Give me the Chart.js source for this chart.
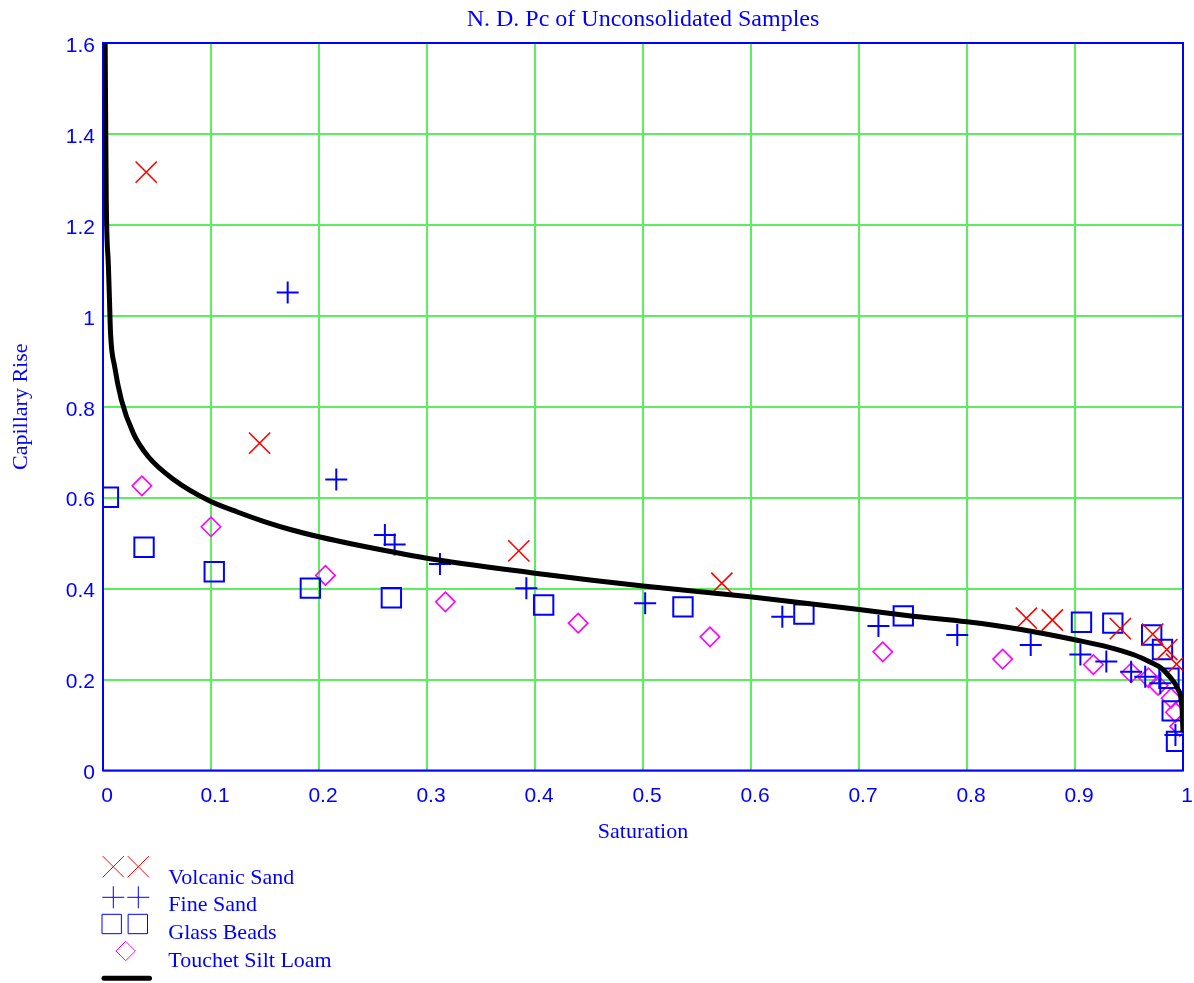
<!DOCTYPE html>
<html>
<head>
<meta charset="utf-8">
<script src="https://cdn.jsdelivr.net/npm/chart.js@4.4.1/dist/chart.umd.min.js"></script>
<style>
  html, body { margin: 0; padding: 0; background: #ffffff; }
  #wrap { width: 1194px; height: 983px; position: relative; }
</style>
</head>
<body>
<div id="wrap"><canvas id="c" width="1194" height="983"></canvas></div>
<script>
// ---- data ----
const titleText = "N. D. Pc of Unconsolidated Samples";
const xTitle = "Saturation";
const yTitle = "Capillary Rise";
const seriesNames = ["Volcanic Sand", "Fine Sand", "Glass Beads", "Touchet Silt Loam"];

const volcanicX = [0.040, 0.145, 0.385, 0.573, 0.855, 0.879, 0.942, 0.972, 0.985, 0.994];
const volcanicY = [1.316, 0.720, 0.483, 0.412, 0.335, 0.331, 0.312, 0.300, 0.266, 0.234];

const fineX = [0.171, 0.216, 0.261, 0.270, 0.312, 0.392, 0.502, 0.629, 0.718, 0.791, 0.859, 0.905, 0.929, 0.952, 0.965, 0.979, 0.993];
const fineY = [1.051, 0.640, 0.518, 0.497, 0.454, 0.401, 0.368, 0.338, 0.318, 0.298, 0.276, 0.255, 0.240, 0.217, 0.206, 0.192, 0.078];

const glassX = [0.005, 0.038, 0.103, 0.192, 0.267, 0.408, 0.537, 0.649, 0.741, 0.906, 0.935, 0.971, 0.981, 0.987, 0.990, 0.994];
const glassY = [0.601, 0.491, 0.437, 0.401, 0.380, 0.364, 0.360, 0.344, 0.340, 0.326, 0.324, 0.298, 0.266, 0.203, 0.131, 0.064];

const touchetX = [0.036, 0.100, 0.206, 0.317, 0.440, 0.562, 0.722, 0.833, 0.917, 0.952, 0.968, 0.977, 0.989, 0.993, 0.997];
const touchetY = [0.626, 0.536, 0.429, 0.371, 0.324, 0.294, 0.261, 0.245, 0.233, 0.215, 0.204, 0.187, 0.159, 0.128, 0.097];

// fitted curve, points
const curveX = [0.002, 0.003, 0.005, 0.006, 0.007, 0.0108, 0.017, 0.028, 0.042, 0.066, 0.097, 0.125, 0.150, 0.175, 0.200, 0.233, 0.300, 0.400, 0.451, 0.500, 0.599, 0.700, 0.748, 0.800, 0.850, 0.901, 0.930, 0.955, 0.970, 0.980, 0.987, 0.995, 0.999, 1.000];
const curveY = [1.600, 1.260, 1.110, 1.035, 0.961, 0.888, 0.815, 0.742, 0.690, 0.639, 0.595, 0.568, 0.547, 0.529, 0.514, 0.497, 0.467, 0.434, 0.419, 0.406, 0.382, 0.354, 0.340, 0.327, 0.310, 0.287, 0.272, 0.254, 0.238, 0.225, 0.208, 0.180, 0.140, 0.085];

const xMin = 0, xMax = 1, xStep = 0.1;
const yMin = 0, yMax = 1.6, yStep = 0.2;

// ---- styles ----
const BLUE = '#0000ff', RED = '#ff0000', MAG = '#ff00ff', GRID = '#5cef5c';
const SERIF = "'Liberation Serif', 'Times New Roman', serif";
const SANS = "'Liberation Sans', Arial, sans-serif";

const toPts = (xs, ys) => xs.map((x, i) => ({x: x, y: ys[i]}));
const fmt = v => String(Number(Number(v).toFixed(1)));

const markerStyles = [
  {pointStyle: 'crossRot', radius: 15, borderWidth: 1.6, color: RED},
  {pointStyle: 'cross', radius: 11, borderWidth: 2, color: BLUE},
  {pointStyle: 'rect', radius: 13.7, borderWidth: 2, color: BLUE},
  {pointStyle: 'rectRot', radius: 9.7, borderWidth: 1.6, color: MAG}
];

const frameAndLegend = {
  id: 'frameAndLegend',
  beforeDatasetsDraw(chart) {
    const {ctx, chartArea: a} = chart;
    ctx.save();
    ctx.strokeStyle = BLUE;
    ctx.lineWidth = 2;
    ctx.strokeRect(a.left, a.top, a.right - a.left, a.bottom - a.top);
    ctx.restore();
  },
  afterDraw(chart) {
    const ctx = chart.ctx;
    ctx.save();
    const rows = [
      {ms: markerStyles[0], xs: [113.3, 138.3], my: 866.7, base: 883.5},
      {ms: markerStyles[1], xs: [113.3, 138.3], my: 897.3, base: 911.2},
      {ms: markerStyles[2], xs: [111.7, 137.8], my: 924, base: 939},
      {ms: markerStyles[3], xs: [125.7], my: 951, base: 967}
    ];
    rows.forEach((r, i) => {
      ctx.strokeStyle = r.ms.color;
      ctx.fillStyle = 'rgba(0,0,0,0)';
      r.xs.forEach(px => {
        Chart.helpers.drawPoint(ctx, {pointStyle: r.ms.pointStyle, radius: r.ms.radius, borderWidth: r.ms.borderWidth, rotation: 0}, px, r.my);
      });
      ctx.fillStyle = BLUE;
      ctx.font = "22px " + SERIF;
      ctx.textAlign = 'left';
      ctx.textBaseline = 'alphabetic';
      ctx.fillText(seriesNames[i], 168.3, r.base);
    });
    ctx.strokeStyle = '#000';
    ctx.lineWidth = 5;
    ctx.lineCap = 'round';
    ctx.beginPath();
    ctx.moveTo(104, 978.3);
    ctx.lineTo(149.5, 978.3);
    ctx.stroke();
    ctx.restore();
  }
};

function scatterSet(i, xs, ys) {
  const m = markerStyles[i];
  return {
    label: seriesNames[i],
    data: toPts(xs, ys),
    showLine: false,
    pointStyle: m.pointStyle,
    pointRadius: m.radius,
    pointBorderWidth: m.borderWidth,
    pointBorderColor: m.color,
    pointBackgroundColor: 'rgba(0,0,0,0)',
    borderColor: m.color,
    order: 1
  };
}

new Chart(document.getElementById('c'), {
  type: 'scatter',
  data: {
    datasets: [
      {
        label: 'Fit',
        data: toPts(curveX, curveY),
        showLine: true,
        borderColor: '#000000',
        borderWidth: 5,
        pointRadius: 0,
        cubicInterpolationMode: 'monotone',
        order: 0
      },
      scatterSet(0, volcanicX, volcanicY),
      scatterSet(1, fineX, fineY),
      scatterSet(2, glassX, glassY),
      scatterSet(3, touchetX, touchetY)
    ]
  },
  options: {
    responsive: false,
    animation: false,
    events: [],
    layout: { autoPadding: false, padding: { left: 0, top: 0, right: 11, bottom: 132.5 } },
    plugins: {
      legend: { display: false },
      tooltip: { enabled: false },
      title: {
        display: true,
        text: titleText,
        color: BLUE,
        fullSize: false,
        font: { family: SERIF, size: 24, weight: 'normal', lineHeight: 1.2 },
        padding: { top: 5, bottom: 9.2 }
      }
    },
    scales: {
      x: {
        type: 'linear',
        min: xMin, max: xMax,
        afterFit: s => { s.height = 80; s.paddingLeft = 0; s.paddingRight = 0; },
        ticks: {
          stepSize: xStep,
          color: BLUE,
          font: { family: SANS, size: 21 },
          padding: 13,
          labelOffset: 4,
          maxRotation: 0,
          callback: v => fmt(v)
        },
        grid: { color: GRID, lineWidth: 2, drawTicks: false },
        border: { display: false },
        title: {
          display: true, text: xTitle, color: BLUE,
          font: { family: SERIF, size: 22, lineHeight: 1.2 },
          padding: { top: 0, bottom: 5 }
        }
      },
      y: {
        type: 'linear',
        min: yMin, max: yMax,
        afterFit: s => { s.width = 103; s.paddingTop = 0; s.paddingBottom = 0; },
        ticks: {
          stepSize: yStep,
          color: BLUE,
          font: { family: SANS, size: 21 },
          padding: 8,
          labelOffset: 3,
          callback: v => fmt(v)
        },
        grid: { color: GRID, lineWidth: 2, drawTicks: false },
        border: { display: false },
        title: {
          display: true, text: yTitle, color: BLUE,
          font: { family: SERIF, size: 22, lineHeight: 1.2 },
          padding: { top: 8, bottom: 0 }
        }
      }
    }
  },
  plugins: [frameAndLegend]
});
</script>
</body>
</html>
